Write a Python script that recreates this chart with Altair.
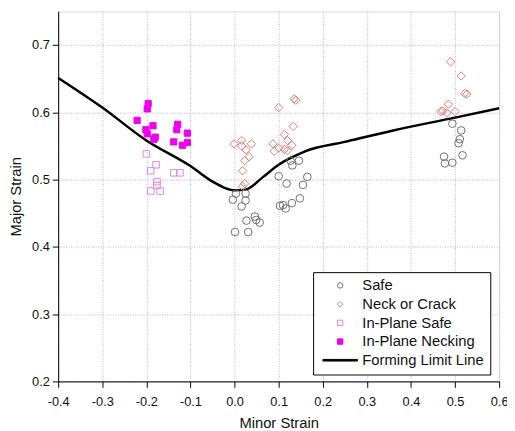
import altair as alt
import pandas as pd

# ---- data ----
safe_x = [0.494, 0.514, 0.511, 0.508, 0.517, 0.475, 0.477, 0.494,
          0.003, 0.025, -0.004, 0.025, 0.016, 0.046, 0.049, 0.057, 0.027, 0.001, 0.031,
          0.100, 0.118, 0.131, 0.146, 0.127, 0.165, 0.155, 0.103, 0.110, 0.116, 0.130, 0.148]
safe_y = [0.583, 0.573, 0.560, 0.554, 0.536, 0.534, 0.524, 0.525,
          0.479, 0.479, 0.470, 0.469, 0.460, 0.445, 0.440, 0.436, 0.439, 0.422, 0.422,
          0.505, 0.494, 0.521, 0.528, 0.528, 0.504, 0.492, 0.461, 0.462, 0.457, 0.465, 0.472]

neck_x = [-0.001, 0.016, 0.038, 0.016, 0.026, 0.033, 0.023, 0.018, 0.023, 0.018,
          0.100, 0.135, 0.139, 0.133, 0.113, 0.087, 0.120, 0.101, 0.090, 0.113, 0.130, 0.120,
          0.490, 0.514, 0.522, 0.527, 0.485, 0.472, 0.468, 0.500, 0.481]
neck_y = [0.553, 0.558, 0.553, 0.550, 0.544, 0.534, 0.528, 0.513, 0.494, 0.490,
          0.607, 0.620, 0.618, 0.579, 0.567, 0.553, 0.558, 0.547, 0.542, 0.545, 0.551, 0.543,
          0.675, 0.654, 0.628, 0.627, 0.612, 0.602, 0.601, 0.601, 0.599]

ips_x = [-0.200, -0.178, -0.190, -0.176, -0.176, -0.190, -0.169, -0.138, -0.124]
ips_y = [0.538, 0.522, 0.513, 0.497, 0.491, 0.483, 0.483, 0.510, 0.510]

ipn_x = [-0.221, -0.196, -0.198, -0.201, -0.185, -0.198, -0.180, -0.183,
         -0.129, -0.131, -0.138, -0.118, -0.107, -0.107]
ipn_y = [0.588, 0.613, 0.605, 0.574, 0.580, 0.568, 0.563, 0.560,
         0.582, 0.574, 0.556, 0.551, 0.569, 0.555]

fll_x = [-0.4, -0.3, -0.2, -0.1, -0.05, -0.02, 0.0, 0.025, 0.065, 0.1, 0.13, 0.16, 0.25, 0.36, 0.5, 0.6]
fll_y = [0.651, 0.607, 0.558, 0.520, 0.497, 0.487, 0.484, 0.485, 0.504, 0.522, 0.533, 0.542, 0.556, 0.573, 0.592, 0.606]

order = ["Safe", "Neck or Crack", "In-Plane Safe", "In-Plane Necking", "Forming Limit Line"]
strokes = ["#6e6e6e", "#de7a70", "#dd88dd", "#f000f0", "#000000"]
fills = ["transparent", "transparent", "transparent", "#f000f0", "#000000"]
shapes = ["circle", "diamond", "square", "square", "M-6.4,-0.3H6.4V0.3H-6.4Z"]
point_size = {"Safe": 60, "Neck or Crack": 72, "In-Plane Safe": 44, "In-Plane Necking": 40}

rows = []
for name, xs, ys in [("Safe", safe_x, safe_y), ("Neck or Crack", neck_x, neck_y),
                     ("In-Plane Safe", ips_x, ips_y), ("In-Plane Necking", ipn_x, ipn_y)]:
    for a, b in zip(xs, ys):
        rows.append({"x": a, "y": b, "series": name, "sz": point_size[name]})
pts = pd.DataFrame(rows)
line = pd.DataFrame({"x": fll_x, "y": fll_y})

FONT = "Liberation Sans"
xvals = [round(-0.4 + 0.05 * i, 2) for i in range(21)]
yvals = [round(0.2 + 0.05 * i, 2) for i in range(12)]
major = "abs(round(datum.value*10) - datum.value*10) < 0.001"

def axis(title, values, tpad, lpad):
    return alt.Axis(
        title=title, values=values, grid=True,
        labelExpr=f"{major} ? replace(format(datum.value, '.1f'), '\u2212', '-') : ''",
        tickSize={"condition": {"test": major, "value": 6}, "value": 3},
        gridOpacity={"condition": {"test": major, "value": 1}, "value": 0},
        gridColor="#aeaee8", gridDash=[1, 1.5], gridWidth=1,
        domainColor="black", tickColor="black", labelColor="#111111",
        labelFont=FONT, labelFontSize=13, titleFont=FONT, titleFontSize=15,
        titleFontWeight="normal", titleColor="#111111", labelFlush=False,
        labelOverlap=False, titlePadding=tpad, labelPadding=lpad,
    )

xenc = alt.X("x:Q", scale=alt.Scale(domain=[-0.4, 0.6], nice=False, zero=False),
             axis=axis("Minor Strain", xvals, 8, 8))
yenc = alt.Y("y:Q", scale=alt.Scale(domain=[0.2, 0.75], nice=False, zero=False),
             axis=axis("Major Strain", yvals, 8, 3))

leg = alt.Legend(orient="none", legendX=259, legendY=265, strokeColor="black",
                 fillColor="white", padding=6, labelFont=FONT, labelFontSize=15,
                 labelColor="#111111", rowPadding=3, labelOffset=15, symbolSize=30,
                 symbolOffset=14, symbolStrokeWidth=1)

points = alt.Chart(pts).mark_point(opacity=1, strokeWidth=1).encode(
    x=xenc, y=yenc,
    stroke=alt.Stroke("series:N", scale=alt.Scale(domain=order, range=strokes), legend=leg, title=None),
    fill=alt.Fill("series:N", scale=alt.Scale(domain=order, range=fills), legend=leg, title=None),
    shape=alt.Shape("series:N", scale=alt.Scale(domain=order, range=shapes), legend=leg, title=None),
    size=alt.Size("sz:Q", scale=None, legend=None),
)

flline = alt.Chart(line).mark_line(color="black", strokeWidth=2.5, interpolate="monotone").encode(
    x="x:Q", y="y:Q"
)

chart = alt.layer(flline, points).properties(
    width=448, height=376,
    autosize=alt.AutoSizeParams(type="none"),
    padding={"left": 51, "top": 0, "right": 8, "bottom": 47},
).configure_view(stroke="black", strokeWidth=1.2).configure(background="white")

chart.save("out.html", embed_options={"renderer": "svg", "actions": False})
